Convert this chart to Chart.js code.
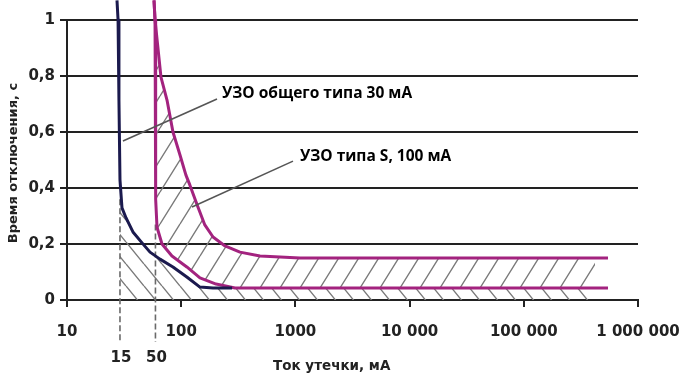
<!DOCTYPE html>
<html><head><meta charset="utf-8">
<script src="https://cdn.jsdelivr.net/npm/chart.js@4/dist/chart.umd.min.js"></script>
<style>html,body{margin:0;padding:0;background:#fff;} #wrap{width:683px;height:380px;position:relative;}</style>
</head><body><div id="wrap"><canvas id="c" width="683" height="380"></canvas></div>
<script>
// ---- data ----
const xTickValues = [10, 100, 1000, 10000, 100000, 1000000];
const xTickLabels = ['10', '100', '1000', '10 000', '100 000', '1 000 000'];
const yTickValues = [0, 0.2, 0.4, 0.6, 0.8, 1];
const yTickLabels = ['0', '0,2', '0,4', '0,6', '0,8', '1'];

// УЗО общего типа 30 мА (ток, мА / время, с)
const general30X = [27.4, 28.0, 28.5, 29.1, 30.3, 32.9, 37.8, 45.4, 53.3, 65.2, 84.7, 112, 146, 190, 279];
const general30T = [1.07, 1.0, 0.714, 0.429, 0.329, 0.293, 0.243, 0.204, 0.171, 0.146, 0.118, 0.082, 0.046, 0.043, 0.043];

// УЗО типа S, 100 мА — верхняя граница
const typeSUpperX = [57.8, 59.0, 66.5, 75.1, 84.7, 97.6, 110, 119, 138, 161, 190, 242, 327, 490, 1096, 546000];
const typeSUpperT = [1.07, 1.0, 0.796, 0.714, 0.6, 0.518, 0.446, 0.411, 0.339, 0.268, 0.225, 0.193, 0.171, 0.157, 0.15, 0.15];

// УЗО типа S, 100 мА — нижняя граница
const typeSLowerX = [57.8, 59.0, 59.5, 60.0, 61.4, 67.9, 83.0, 112, 146, 202, 296, 546000];
const typeSLowerT = [1.07, 1.0, 0.5, 0.36, 0.26, 0.2, 0.157, 0.118, 0.079, 0.057, 0.043, 0.043];

const hatchEnd = 420000;

const markerX = [29.1, 59.5];
const markerTop = [0.36, 0.27];
const markerLabels = ['15', '50'];

const noteTexts = ['УЗО общего типа 30 мА', 'УЗО типа S, 100 мА'];
const noteX = [227.5, 1096];
const noteT = [0.739, 0.511];
const leaderFromX = [205.8, 953];
const leaderFromT = [0.718, 0.496];
const leaderToX = [30.9, 124.4];
const leaderToT = [0.568, 0.332];

const xTitle = 'Ток утечки, мА';
const yTitle = 'Время отключения, с';

// ---- helpers ----
const toPts = (xs, ts) => xs.map((x, i) => ({ x: x, y: ts[i] }));
const NAVY = '#1b1a4e';
const PINK = '#a3237f';
const AXIS = '#222222';
const AXFONT = 'DejaVu Sans';

function makePattern(ctx, w, h, dir, color, lw) {
  const c = document.createElement('canvas');
  c.width = w; c.height = h;
  const g = c.getContext('2d');
  g.strokeStyle = color; g.lineWidth = lw;
  g.beginPath();
  for (const dx of [-w, 0, w]) {
    if (dir === '/') { g.moveTo(dx, h); g.lineTo(dx + w, 0); }
    else { g.moveTo(dx, 0); g.lineTo(dx + w, h); }
  }
  g.stroke();
  return ctx.createPattern(c, 'repeat');
}

const hatchPlugin = {
  id: 'hatch',
  beforeDatasetsDraw(chart) {
    const ctx = chart.ctx, xs = chart.scales.x, ys = chart.scales.y, a = chart.chartArea;
    const X = v => xs.getPixelForValue(v), Y = v => ys.getPixelForValue(v);
    const endPx = X(hatchEnd);
    // band between type S curves
    ctx.save();
    ctx.beginPath();
    ctx.rect(a.left, a.top, endPx - a.left, a.bottom - a.top);
    ctx.clip();
    ctx.beginPath();
    typeSUpperX.forEach((x, i) => i ? ctx.lineTo(X(x), Y(typeSUpperT[i])) : ctx.moveTo(X(x), Y(typeSUpperT[i])));
    for (let i = typeSLowerX.length - 1; i >= 0; i--) ctx.lineTo(X(typeSLowerX[i]), Y(typeSLowerT[i]));
    ctx.closePath();
    ctx.fillStyle = makePattern(ctx, 20, 32, '/', '#7a7a7a', 1.4);
    ctx.fill();
    ctx.restore();
    // area under the general curve / lower S curve
    const m0 = X(markerX[0]);
    ctx.save();
    ctx.beginPath();
    ctx.rect(m0, a.top, endPx - m0, a.bottom - a.top);
    ctx.clip();
    ctx.beginPath();
    const lastNavy = general30X[general30X.length - 1];
    general30X.forEach((x, i) => i ? ctx.lineTo(X(x), Y(general30T[i])) : ctx.moveTo(X(x), Y(general30T[i])));
    typeSLowerX.forEach((x, i) => { if (x > lastNavy) ctx.lineTo(X(x), Y(typeSLowerT[i])); });
    ctx.lineTo(X(typeSLowerX[typeSLowerX.length - 1]), Y(0));
    ctx.lineTo(X(general30X[0]), Y(0));
    ctx.closePath();
    ctx.fillStyle = makePattern(ctx, 18, 22, '\\', '#7a7a7a', 1.4);
    ctx.fill();
    ctx.restore();
    // dashed markers
    ctx.save();
    ctx.setLineDash([6, 3]);
    ctx.strokeStyle = '#6a6a6a';
    ctx.lineWidth = 1.6;
    markerX.forEach((m, i) => {
      ctx.beginPath();
      ctx.moveTo(X(m), Y(markerTop[i]));
      ctx.lineTo(X(m), a.bottom + 42);
      ctx.stroke();
    });
    ctx.restore();
  },
  afterDatasetsDraw(chart) {
    const ctx = chart.ctx, xs = chart.scales.x, ys = chart.scales.y, a = chart.chartArea;
    const X = v => xs.getPixelForValue(v), Y = v => ys.getPixelForValue(v);
    ctx.save();
    ctx.strokeStyle = '#555';
    ctx.lineWidth = 1.6;
    leaderFromX.forEach((x, i) => {
      ctx.beginPath();
      ctx.moveTo(X(x), Y(leaderFromT[i]));
      ctx.lineTo(X(leaderToX[i]), Y(leaderToT[i]));
      ctx.stroke();
    });
    ctx.fillStyle = '#000';
    ctx.font = 'bold 15.5px "Open Sans"';
    ctx.textAlign = 'left';
    ctx.textBaseline = 'middle';
    noteTexts.forEach((t, i) => ctx.fillText(t, X(noteX[i]), Y(noteT[i])));
    // marker labels
    ctx.fillStyle = AXIS;
    ctx.font = 'bold 15px "' + AXFONT + '"';
    ctx.textAlign = 'center';
    markerX.forEach((m, i) => ctx.fillText(markerLabels[i], X(m) + 1, a.bottom + 58));
    // axis titles
    ctx.font = 'bold 13.5px "' + AXFONT + '"';
    ctx.textAlign = 'left';
    ctx.fillText(xTitle, 273, 366);
    ctx.translate(14, 163);
    ctx.rotate(-Math.PI / 2);
    ctx.textAlign = 'center';
    ctx.font = 'bold 13px "' + AXFONT + '"';
    ctx.fillText(yTitle, 0, 0);
    ctx.restore();
  }
};

const lineDs = (label, xs, ts, color) => ({
  label: label, data: toPts(xs, ts), borderColor: color, backgroundColor: color,
  borderWidth: 3, pointRadius: 0, tension: 0, clip: false, fill: false,
  borderJoinStyle: 'round', borderCapStyle: 'butt'
});

new Chart(document.getElementById('c'), {
  type: 'line',
  data: {
    datasets: [
      lineDs('УЗО общего типа 30 мА', general30X, general30T, NAVY),
      lineDs('УЗО типа S, 100 мА (макс.)', typeSUpperX, typeSUpperT, PINK),
      lineDs('УЗО типа S, 100 мА (мин.)', typeSLowerX, typeSLowerT, PINK)
    ]
  },
  options: {
    responsive: false,
    animation: false,
    layout: { padding: { top: 20, right: 45, left: 0, bottom: 0 } },
    plugins: { legend: { display: false }, tooltip: { enabled: false }, title: { display: false } },
    scales: {
      x: {
        type: 'logarithmic', min: 10, max: 1000000, position: 'bottom',
        afterBuildTicks: s => { s.ticks = xTickValues.map(v => ({ value: v, major: true })); },
        afterFit: s => { s.height = 80; s.paddingLeft = 0; s.paddingRight = 0; },
        grid: { drawOnChartArea: false, drawTicks: true, tickLength: 7, color: AXIS, lineWidth: 2 },
        border: { display: true, color: AXIS, width: 2 },
        ticks: {
          autoSkip: false, maxRotation: 0, padding: 16, color: AXIS,
          font: { family: AXFONT, size: 15, weight: 'bold' },
          callback: (v, i) => xTickLabels[i]
        }
      },
      y: {
        type: 'linear', min: 0, max: 1,
        afterBuildTicks: s => { s.ticks = yTickValues.map(v => ({ value: v })); },
        afterFit: s => { s.width = 67; s.paddingTop = 0; s.paddingBottom = 0; },
        grid: { drawTicks: true, tickLength: 7, color: AXIS, lineWidth: 2 },
        border: { display: true, color: AXIS, width: 2 },
        ticks: {
          padding: 5, color: AXIS,
          font: { family: AXFONT, size: 15, weight: 'bold' },
          callback: (v, i) => yTickLabels[i]
        }
      }
    }
  },
  plugins: [hatchPlugin]
});
</script>
</body></html>
